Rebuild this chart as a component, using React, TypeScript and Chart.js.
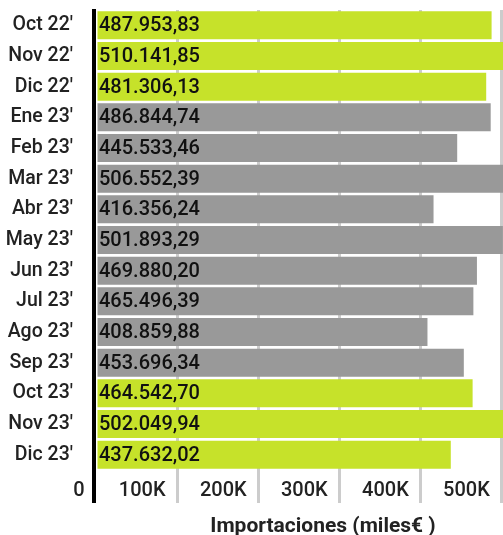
import React, { useEffect, useRef } from 'react';
import { Chart, registerables } from 'chart.js';

Chart.register(...registerables);

const categories = [
  "Oct 22'", "Nov 22'", "Dic 22'", "Ene 23'", "Feb 23'", "Mar 23'", "Abr 23'",
  "May 23'", "Jun 23'", "Jul 23'", "Ago 23'", "Sep 23'", "Oct 23'", "Nov 23'", "Dic 23'",
];
const values = [
  487953.83, 510141.85, 481306.13, 486844.74, 445533.46, 506552.39, 416356.24,
  501893.29, 469880.2, 465496.39, 408859.88, 453696.34, 464542.7, 502049.94, 437632.02,
];
// months of the Oct–Dec quarter are highlighted
const highlighted = [
  true, true, true, false, false, false, false,
  false, false, false, false, false, true, true, true,
];
const xTickValues = [0, 100000, 200000, 300000, 400000, 500000];
const xTickLabels = ['0', '100K', '200K', '300K', '400K', '500K'];
const axisTitle = 'Importaciones (miles€ )';

const LIME = '#c6e22a';
const GRAY = '#999999';
const FONT = 'Roboto';

function formatEs(v: number): string {
  const [intPart, dec] = v.toFixed(2).split('.');
  const withDots = intPart.replace(/\B(?=(\d{3})+(?!\d))/g, '.');
  return withDots + ',' + dec;
}

const TICK_LEN = 33;

const valueLabels = {
  id: 'valueLabels',
  afterDatasetsDraw(chart: any) {
    const { ctx } = chart;
    const meta = chart.getDatasetMeta(0);
    const x0 = chart.scales.x.getPixelForValue(0);
    ctx.save();
    ctx.font = `500 20px ${FONT}`;
    ctx.fillStyle = '#111111';
    ctx.textAlign = 'left';
    ctx.textBaseline = 'middle';
    meta.data.forEach((bar: any, i: number) => {
      ctx.fillText(formatEs(values[i]), x0 + 3, bar.y + 1);
    });
    ctx.restore();
  },
};

const zeroLine = {
  id: 'zeroLine',
  beforeDatasetsDraw(chart: any) {
    const { ctx, chartArea } = chart;
    const x0 = chart.scales.x.getPixelForValue(0);
    ctx.save();
    ctx.fillStyle = '#000000';
    ctx.fillRect(x0 - 4, chartArea.top - 1, 4, chartArea.bottom + TICK_LEN - chartArea.top + 1);
    ctx.restore();
  },
};

export default function App() {
  const ref = useRef<HTMLCanvasElement>(null);
  useEffect(() => {
    if (!ref.current) return;
    const chart = new Chart(ref.current, {
      type: 'bar',
      data: {
        labels: categories,
        datasets: [
          {
            data: values,
            backgroundColor: highlighted.map((h) => (h ? LIME : GRAY)),
            borderWidth: 0,
            barPercentage: 0.914,
            categoryPercentage: 1,
          },
        ],
      },
      options: {
        indexAxis: 'y',
        responsive: false,
        animation: false,
        layout: { padding: { top: 10, left: 0, right: 0, bottom: 0 } },
        plugins: {
          legend: { display: false },
          tooltip: { enabled: false },
          title: { display: false },
        },
        scales: {
          x: {
            type: 'linear',
            min: 0,
            max: 560000,
            afterBuildTicks(scale: any) {
              scale.ticks = xTickValues.map((v) => ({ value: v }));
            },
            afterFit(scale: any) {
              scale.height = 65;
              scale.paddingLeft = 0;
              scale.paddingRight = 0;
            },
            border: { display: false },
            grid: {
              color: (c: any) => (c.tick && c.tick.value === 0 ? 'rgba(0,0,0,0)' : '#cccccc'),
              lineWidth: 3,
              tickLength: TICK_LEN,
              drawTicks: true,
            },
            ticks: {
              align: 'end',
              labelOffset: -11.5,
              padding: -24,
              maxRotation: 0,
              autoSkip: false,
              color: '#222222',
              font: { family: FONT, size: 20, weight: '500' },
              callback: (v: any) => {
                const idx = xTickValues.indexOf(Number(v));
                return idx >= 0 ? xTickLabels[idx] : '';
              },
            },
            title: {
              display: true,
              text: axisTitle,
              color: '#222222',
              font: { family: FONT, size: 21, weight: 'bold' },
              padding: { top: 0, bottom: -4 },
            },
          },
          y: {
            type: 'category',
            afterFit(scale: any) {
              scale.width = 96;
              scale.paddingTop = 0;
              scale.paddingBottom = 0;
            },
            border: { display: false },
            grid: { display: false, drawTicks: false },
            ticks: {
              padding: 23,
              color: '#222222',
              font: { family: FONT, size: 19.5, weight: '500' },
            },
          },
        },
      },
      plugins: [zeroLine, valueLabels],
    });
    return () => chart.destroy();
  }, []);

  return (
    <div
      style={{
        position: 'fixed',
        left: 0,
        top: 0,
        width: 503,
        height: 535,
        overflow: 'hidden',
        background: '#ffffff',
      }}
    >
      <canvas ref={ref} width={550} height={535} style={{ display: 'block' }} />
    </div>
  );
}
